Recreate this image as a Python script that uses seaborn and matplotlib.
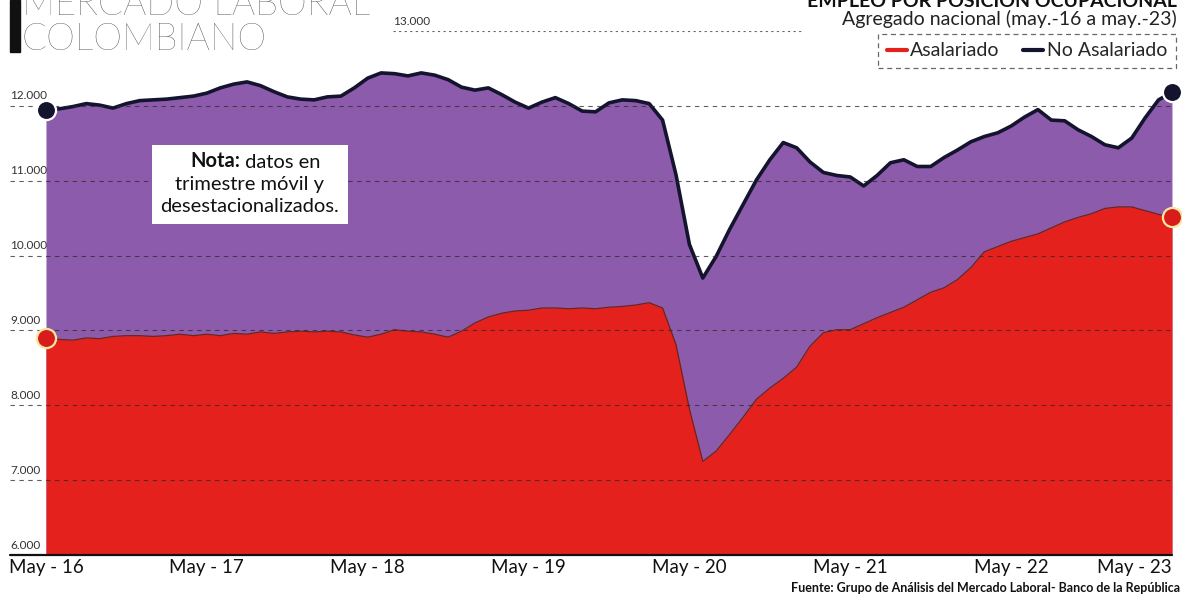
import numpy as np
import pandas as pd
import matplotlib
matplotlib.use("Agg")
import matplotlib.pyplot as plt
from matplotlib.lines import Line2D
from matplotlib.patches import Rectangle
import seaborn as sns

# datos mensuales, may-16 a may-23 (miles de personas)
meses = list(range(85))
etiquetas_x = ["May - 16", "May - 17", "May - 18", "May - 19",
               "May - 20", "May - 21", "May - 22", "May - 23"]
no_asalariado = [
    11950, 11960, 11990, 12030, 12010, 11970, 12030, 12070, 12080, 12090, 12110, 12130,
    12170, 12240, 12290, 12320, 12270, 12190, 12120, 12090, 12080, 12120, 12130, 12240,
    12370, 12440, 12430, 12400, 12440, 12410, 12350, 12250, 12210, 12240, 12150, 12050,
    11970, 12050, 12110, 12030, 11930, 11920, 12040, 12080, 12070, 12030, 11810, 11080,
    10150, 9700, 9990, 10350, 10680, 11010, 11280, 11510, 11440, 11250, 11110, 11070,
    11050, 10930, 11070, 11240, 11280, 11190, 11190, 11310, 11410, 11520, 11590, 11640,
    11730, 11850, 11950, 11810, 11800, 11680, 11590, 11480, 11440, 11570, 11840, 12080,
    12180,
]
asalariado = [
    8900, 8880, 8870, 8900, 8890, 8920, 8930, 8930, 8920, 8930, 8950, 8930,
    8950, 8930, 8960, 8950, 8980, 8960, 8980, 8990, 8980, 8990, 8980, 8940,
    8910, 8950, 9010, 8990, 8980, 8950, 8910, 8990, 9100, 9180, 9230, 9260,
    9270, 9300, 9300, 9290, 9300, 9290, 9310, 9320, 9340, 9370, 9300, 8810,
    7950, 7250, 7390, 7610, 7840, 8080, 8230, 8360, 8510, 8790, 8970, 9010,
    9010, 9090, 9170, 9240, 9310, 9410, 9510, 9570, 9680, 9840, 10050, 10120,
    10190, 10240, 10290, 10370, 10450, 10510, 10560, 10630, 10650, 10650, 10600, 10550,
    10520,
]
niveles_y = [6000, 7000, 8000, 9000, 10000, 11000, 12000, 13000]
etiquetas_y = ["6.000", "7.000", "8.000", "9.000", "10.000", "11.000", "12.000", "13.000"]

df = pd.DataFrame({"mes": meses, "Asalariado": asalariado, "No Asalariado": no_asalariado})

ROJO = "#e5211d"
MORADO = "#8c5bab"
AZUL = "#14142e"

sns.set_theme(style="white")
plt.rcParams["font.family"] = ["Lato", "DejaVu Sans"]

fig = plt.figure(figsize=(11.82, 5.95), dpi=100)
ax = fig.add_axes([0.0389, 0.0672, 0.9526, 0.8807])

# areas superpuestas (no apiladas)
ax.fill_between(df["mes"], 6000, df["No Asalariado"], color=MORADO, lw=0, zorder=1)
ax.fill_between(df["mes"], 6000, df["Asalariado"], color=ROJO, lw=0, zorder=2)
sns.lineplot(data=df, x="mes", y="No Asalariado", color=AZUL, lw=2.6, ax=ax, zorder=4)
sns.lineplot(data=df, x="mes", y="Asalariado", color="#6e2418", lw=0.9, ax=ax, zorder=3)

# puntos inicial y final
for serie, color, borde in [("No Asalariado", AZUL, "white"), ("Asalariado", "#d81c1c", "#f3e6a0")]:
    ax.scatter([df["mes"].iloc[0], df["mes"].iloc[-1]],
               [df[serie].iloc[0], df[serie].iloc[-1]],
               s=190, color=color, edgecolor=borde, linewidth=1.6, zorder=6, clip_on=False)

# lineas guia punteadas
for v in niveles_y[1:-1]:
    ax.axhline(v, xmin=-0.032, color="#2a2a2a", lw=0.8, ls=(0, (4, 4)), alpha=0.75,
               zorder=5, clip_on=False)
ax.axhline(13000, xmin=0.308, xmax=0.672, color="#666", lw=0.8, ls=(0, (2, 3)), zorder=5)
ax.axhline(6000, xmin=-0.032, color="#111", lw=1.6, zorder=5, clip_on=False)

# etiquetas del eje y
for v, t in zip(niveles_y, etiquetas_y):
    x_lab = 0.308 if v == 13000 else -0.032
    ax.text(x_lab, v + 60, t, transform=ax.get_yaxis_transform(), ha="left", va="bottom",
            fontsize=8.5, color="#333", zorder=2)

ax.set_xlim(0, 84)
ax.set_ylim(6000, 13000)
ax.set_yticks([])
ax.set_xticks(meses[::12])
ax.set_xticklabels(etiquetas_x, fontsize=13.5, color="#111")
ax.tick_params(axis="x", length=0, pad=3)
ax.get_xticklabels()[-1].set_ha("right")
ax.get_xticklabels()[-1].set_x(84.5)
ax.set_xlabel("")
ax.set_ylabel("")
for s in ax.spines.values():
    s.set_visible(False)

# nota (caja blanca + tres lineas)
ax.add_patch(Rectangle((106 / 1126, (555 - 224) / 524), 196 / 1126, 79 / 524,
                       transform=ax.transAxes, fc="white", ec="none", zorder=7))
t1 = ax.text(0.128, (555 - 161) / 524, "Nota:", transform=ax.transAxes, ha="left",
             va="center", fontsize=14.5, fontweight="bold", color="#111", zorder=8)
ax.annotate(" datos en", xy=(1, 0), xycoords=t1, ha="left", va="bottom",
            fontsize=14.5, color="#111", zorder=8)
ax.text(0.181, (555 - 184) / 524, "trimestre móvil y", transform=ax.transAxes,
        ha="center", va="center", fontsize=14.5, color="#111", zorder=8)
ax.text(0.181, (555 - 206) / 524, "desestacionalizados.", transform=ax.transAxes,
        ha="center", va="center", fontsize=14.5, color="#111", zorder=8)

# titulo
fig.patches.append(Rectangle((10 / 1182, 1 - 52 / 595), 10 / 1182, 52 / 595,
                             transform=fig.transFigure, color="#111"))
fig.text(22 / 1182, 1 - 50 / 595, "MERCADO LABORAL\nCOLOMBIANO", ha="left", va="baseline",
         fontsize=26.5, fontweight="light", color="#333", linespacing=1.05)
fig.text(1177 / 1182, 1 - 7 / 595, "EMPLEO POR POSICIÓN OCUPACIONAL", ha="right",
         va="baseline", fontsize=14, fontweight="bold", color="#111")
fig.text(1177 / 1182, 1 - 25 / 595, "Agregado nacional (may.-16 a may.-23)", ha="right",
         va="baseline", fontsize=14, color="#222")

# leyenda
manejadores = [Line2D([0], [0], color=ROJO, lw=3),
               Line2D([0], [0], color=AZUL, lw=3)]
leg = fig.legend(manejadores, ["Asalariado", "No Asalariado"], loc="center",
                 bbox_to_anchor=(1027 / 1182, 1 - 51 / 595), ncol=2, fontsize=14,
                 handlelength=1.0, handletextpad=0.2, columnspacing=1.2,
                 frameon=True, fancybox=False, borderpad=0.45)
leg.get_frame().set_linestyle((0, (4, 3)))
leg.get_frame().set_edgecolor("#444")
leg.get_frame().set_linewidth(0.9)

fig.text(1180 / 1182, 1 - 592 / 595,
         "Fuente: Grupo de Análisis del Mercado Laboral- Banco de la República",
         ha="right", va="baseline", fontsize=9, fontweight="bold", color="#111")

plt.savefig("out.png", dpi=100)
plt.close()
